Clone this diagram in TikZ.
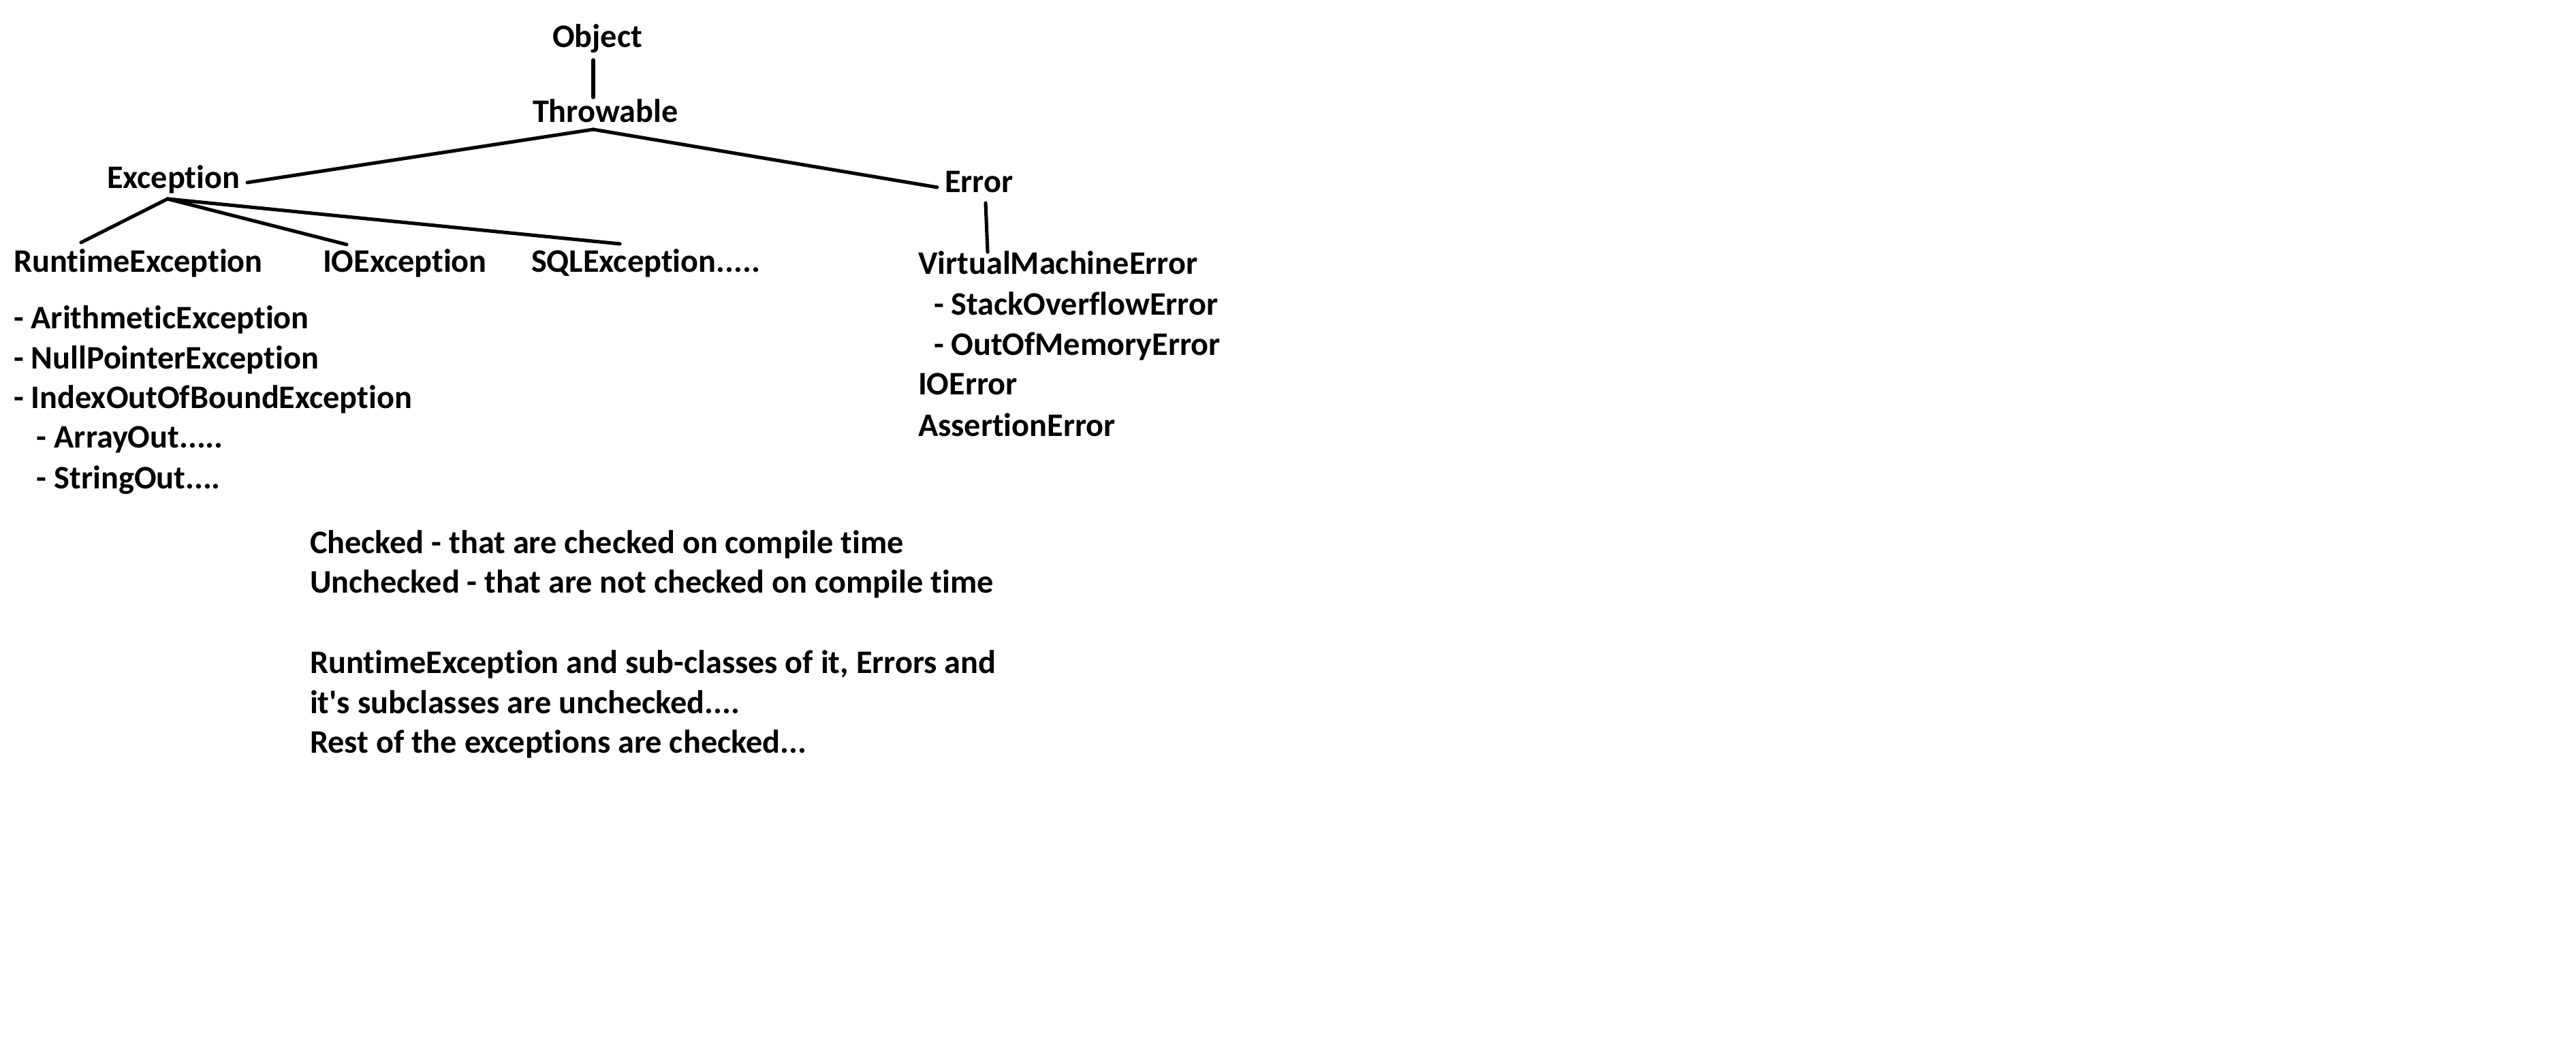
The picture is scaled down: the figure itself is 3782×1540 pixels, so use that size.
\documentclass[tikz,border=0pt]{standalone}
\usepackage{fontspec}
\newfontfamily\calfont{Carlito}[Ligatures={NoCommon,NoContextual},Contextuals=NoAlternate]
\usetikzlibrary{calc}
\tikzset{
  txt/.style={anchor=base west, inner sep=0pt, outer sep=0pt,
    font=\calfont\bfseries\fontsize{13.72pt}{16pt}\selectfont},
  link/.style={line width=1.45pt, line cap=round}
}
\begin{document}
\begin{tikzpicture}[x=0.01cm, y=-0.01cm]
\useasboundingbox[fill=white] (0,0) rectangle (3782,1540);
% tree
\node[txt] (obj) at (811,70) {Object};
\node[txt] (thr) at (782,180) {Throwable};
\node[txt] (exc) at (157,277) {Exception};
\node[txt] (err) at (1387,283) {Error};
\node[txt] (rte) at (20,400) {RuntimeException};
\node[txt] (ioe) at (474,400) {IOException};
\node[txt] (sql) at (780,400) {SQLException.....};
\node[txt] (vme) at (1348,403) {VirtualMachineError};
% runtime subclasses
\node[txt] (ari) at (20,483) {- ArithmeticException};
\node[txt] (npe) at (20,542) {- NullPointerException};
\node[txt] (iob) at (20,600) {- IndexOutOfBoundException};
\node[txt] (arr) at (54,658) {- ArrayOut.....};
\node[txt] (sto) at (54,718) {- StringOut....};
% error subclasses
\node[txt] (soe) at (1371,463) {- StackOverflowError};
\node[txt] (oom) at (1371,522) {- OutOfMemoryError};
\node[txt] (ioerr) at (1348,580) {IOError};
\node[txt] (ase) at (1348,640) {AssertionError};
% notes
\node[txt] (n1) at (455,812) {Checked - that are checked on compile time};
\node[txt] (n2) at (455,870) {Unchecked - that are not checked on compile time};
\node[txt] (n3) at (455,988) {RuntimeException and sub-classes of it, Errors and};
\node[txt] (n4) at (455,1047) {it's subclasses are unchecked....};
\node[txt] (n5) at (455,1105) {Rest of the exceptions are checked...};
% connectors
\draw[link] ($(obj.base west)+(60,18)$) -- ($(thr.base west)+(89,-37)$);
\draw[link] ($(thr.base west)+(89,10)$) -- ($(exc.base west)+(206,-9)$);
\draw[link] ($(thr.base west)+(89,10)$) -- ($(err.base west)+(-11,-8)$);
\draw[link] ($(exc.base west)+(89,15)$) -- ($(rte.base west)+(99,-44)$);
\draw[link] ($(exc.base west)+(89,15)$) -- ($(ioe.base west)+(35,-41)$);
\draw[link] ($(exc.base west)+(89,15)$) -- ($(sql.base west)+(130,-42)$);
\draw[link] ($(err.base west)+(60,15)$) -- ($(vme.base west)+(102,-33)$);
\end{tikzpicture}
\end{document}
